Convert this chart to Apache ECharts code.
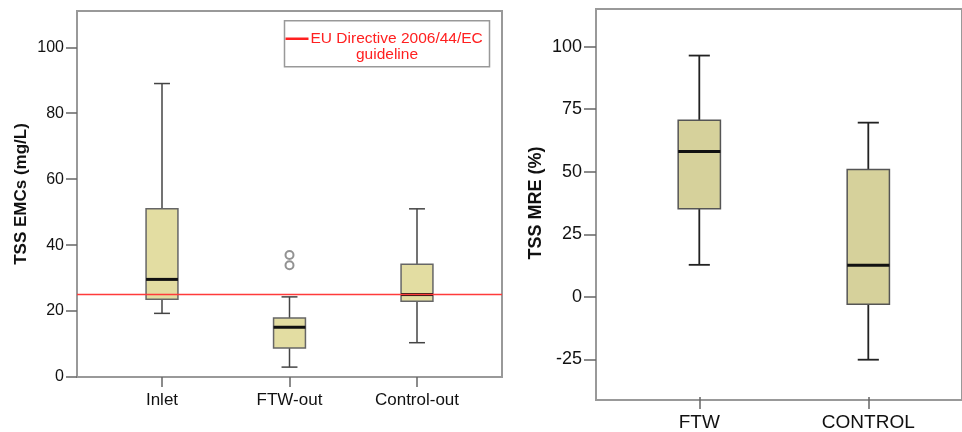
<!DOCTYPE html>
<html>
<head>
<meta charset="utf-8">
<script src="https://cdn.jsdelivr.net/npm/echarts@6/dist/echarts.min.js"></script>
<style>
html, body { margin: 0; padding: 0; background: #fff; }
#chart { width: 962px; height: 432px; }
</style>
</head>
<body>
<div id="chart"></div>
<script>
// ---- left panel: TSS EMCs ----
const emcCategories = ['Inlet', 'FTW-out', 'Control-out']
// [min, Q1, median, Q3, max]
const emcBoxes = [
  [19.3, 23.6, 29.6, 51.0, 89.0],
  [3.0, 8.8, 15.1, 17.9, 24.3],
  [10.4, 23.0, 25.0, 34.2, 51.0]
]
const emcOutliers = [['FTW-out', 37.0], ['FTW-out', 33.9]]
const emcTicks = [0, 20, 40, 60, 80, 100]
const guideline = 25

// ---- right panel: TSS MRE ----
const mreCategories = ['FTW', 'CONTROL']
const mreBoxes = [
  [12.8, 35.2, 58.1, 70.6, 96.4],
  [-25.1, -2.9, 12.6, 50.9, 69.6]
]
const mreTicks = [-25, 0, 25, 50, 75, 100]

const FONT = "'Liberation Sans', Arial, sans-serif"

// box + whiskers drawn through the axes (api.coord)
function boxRenderer (s) {
  return function (params, api) {
    const x = api.value(0)
    const lo = api.coord([x, api.value(1)])
    const q1 = api.coord([x, api.value(2)])
    const md = api.coord([x, api.value(3)])
    const q3 = api.coord([x, api.value(4)])
    const hi = api.coord([x, api.value(5)])
    const band = api.size([1, 0])[0]
    const bw = band * 0.25
    const cw = bw / 2
    const cx = md[0]
    const wStyle = { stroke: s.whisker, lineWidth: s.whiskerWidth }
    return {
      type: 'group',
      children: [
        { type: 'line', shape: { x1: cx, y1: hi[1], x2: cx, y2: q3[1] }, style: wStyle },
        { type: 'line', shape: { x1: cx, y1: q1[1], x2: cx, y2: lo[1] }, style: wStyle },
        { type: 'line', shape: { x1: cx - cw / 2, y1: hi[1], x2: cx + cw / 2, y2: hi[1] }, style: wStyle },
        { type: 'line', shape: { x1: cx - cw / 2, y1: lo[1], x2: cx + cw / 2, y2: lo[1] }, style: wStyle },
        {
          type: 'rect',
          shape: { x: cx - bw / 2, y: q3[1], width: bw, height: q1[1] - q3[1] },
          style: { fill: s.fill, stroke: s.border, lineWidth: 1.5 }
        },
        {
          type: 'line',
          shape: { x1: cx - bw / 2, y1: md[1], x2: cx + bw / 2, y2: md[1] },
          style: { stroke: '#111', lineWidth: 3 }
        }
      ]
    }
  }
}

const chart = echarts.init(document.getElementById('chart'))

const options = {
  backgroundColor: '#fff',
  animation: false,
  textStyle: { fontFamily: FONT },
  grid: [
    // 0: left plot (categories)
    { left: 98.25, top: 11, width: 382.5, height: 366 },
    // 1: right plot (categories)
    { left: 614.8, top: 9, width: 338, height: 391 },
    // 2: left frame
    { left: 77, top: 11, width: 425, height: 366, show: true, borderColor: '#999', borderWidth: 2, backgroundColor: 'transparent' },
    // 3: right frame
    { left: 596, top: 9, width: 380, height: 391, show: true, borderColor: '#999', borderWidth: 2, backgroundColor: 'transparent' }
  ],
  xAxis: [
    {
      gridIndex: 0,
      type: 'category',
      data: emcCategories,
      boundaryGap: true,
      axisLine: { show: false, onZero: false },
      axisTick: { show: true, alignWithLabel: true, length: 10, lineStyle: { color: '#666', width: 1.5 } },
      axisLabel: { color: '#111', fontSize: 17, margin: 15 }
    },
    {
      gridIndex: 1,
      type: 'category',
      data: mreCategories,
      boundaryGap: true,
      axisLine: { show: false, onZero: false },
      axisTick: { show: true, alignWithLabel: true, length: 12, lineStyle: { color: '#666', width: 1.5 } },
      axisLabel: { color: '#111', fontSize: 19, margin: 16 }
    },
    { gridIndex: 2, type: 'value', min: 0, max: 1, show: false },
    { gridIndex: 3, type: 'value', min: 0, max: 1, show: false }
  ],
  yAxis: [
    {
      gridIndex: 0,
      type: 'value',
      min: 0,
      max: 111,
      offset: 21.25,
      name: 'TSS EMCs (mg/L)',
      nameLocation: 'middle',
      nameGap: 47,
      nameTextStyle: { color: '#111', fontSize: 17, fontWeight: 'bold' },
      axisLine: { show: false },
      splitLine: { show: false },
      axisTick: { show: true, length: 11, customValues: emcTicks, lineStyle: { color: '#666', width: 1.5 } },
      axisLabel: { color: '#111', fontSize: 16, margin: 13, customValues: emcTicks }
    },
    {
      gridIndex: 1,
      type: 'value',
      min: -40,
      max: 115,
      offset: 18.8,
      name: 'TSS MRE (%)',
      nameLocation: 'middle',
      nameGap: 51,
      nameTextStyle: { color: '#111', fontSize: 18, fontWeight: 'bold' },
      axisLine: { show: false },
      splitLine: { show: false },
      axisTick: { show: true, length: 12, customValues: mreTicks, lineStyle: { color: '#666', width: 1.5 } },
      axisLabel: { color: '#111', fontSize: 18, margin: 14, customValues: mreTicks }
    },
    { gridIndex: 2, type: 'value', min: 0, max: 111, show: false },
    { gridIndex: 3, type: 'value', min: -40, max: 115, show: false }
  ],
  series: [
    {
      name: 'EMC',
      type: 'custom',
      xAxisIndex: 0,
      yAxisIndex: 0,
      encode: { x: 0, y: [1, 2, 3, 4, 5] },
      renderItem: boxRenderer({ fill: '#e3dda2', border: '#666', whisker: '#444', whiskerWidth: 1.5 }),
      data: emcBoxes.map((b, i) => [i].concat(b)),
      z: 3
    },
    {
      name: 'EMC outliers',
      type: 'scatter',
      xAxisIndex: 0,
      yAxisIndex: 0,
      symbol: 'emptyCircle',
      symbolSize: 8,
      itemStyle: { color: '#777', borderWidth: 1.5 },
      data: emcOutliers,
      z: 3
    },
    {
      name: 'EU Directive 2006/44/EC guideline',
      type: 'line',
      xAxisIndex: 2,
      yAxisIndex: 2,
      symbol: 'none',
      lineStyle: { color: '#ff3b3b', width: 1.5 },
      data: [[0, guideline], [1, guideline]],
      z: 4
    },
    {
      name: 'MRE',
      type: 'custom',
      xAxisIndex: 1,
      yAxisIndex: 1,
      encode: { x: 0, y: [1, 2, 3, 4, 5] },
      renderItem: boxRenderer({ fill: '#d6d19b', border: '#555', whisker: '#222', whiskerWidth: 1.8 }),
      data: mreBoxes.map((b, i) => [i].concat(b)),
      z: 3
    }
  ],
  // legend box for the guideline
  graphic: [
    {
      type: 'group',
      left: 283,
      top: 20,
      children: [
        { type: 'rect', shape: { x: 0, y: 0, width: 205, height: 46 }, style: { fill: '#fff', stroke: '#999', lineWidth: 1.5 } },
        { type: 'line', shape: { x1: 1, y1: 18, x2: 24, y2: 18 }, style: { stroke: '#ff2020', lineWidth: 2.5 } },
        { type: 'text', x: 26, y: 18, style: { text: 'EU Directive 2006/44/EC', fill: '#ff2020', font: '15.5px ' + FONT, textAlign: 'left', textVerticalAlign: 'middle' } },
        { type: 'text', x: 102.5, y: 34, style: { text: 'guideline', fill: '#ff2020', font: '15.5px ' + FONT, textAlign: 'center', textVerticalAlign: 'middle' } }
      ]
    }
  ]
}

chart.setOption(options)
</script>
</body>
</html>
